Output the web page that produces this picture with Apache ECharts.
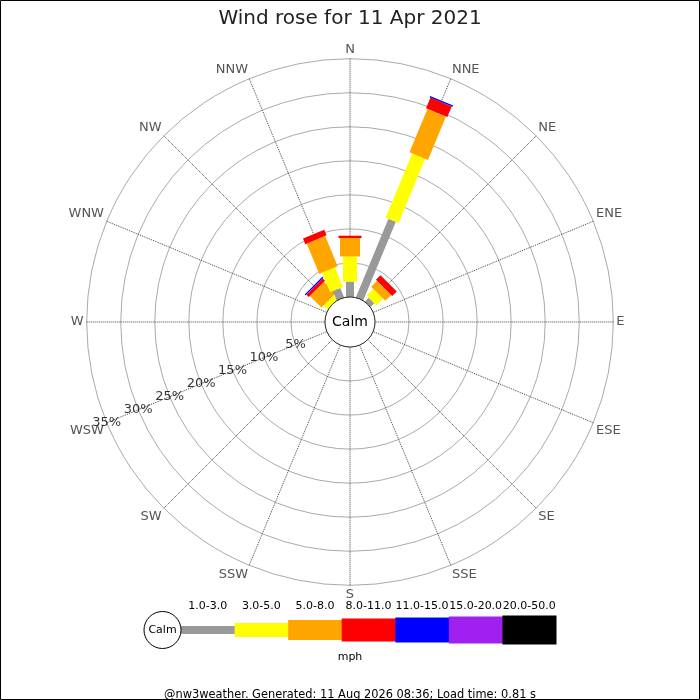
<!DOCTYPE html>
<html><head><meta charset="utf-8">
<script src="https://cdn.jsdelivr.net/npm/echarts@6/dist/echarts.min.js"></script>
<style>html,body{margin:0;padding:0;background:#fff}#c{width:700px;height:700px}</style>
</head><body><div id="c"></div>
<script>
// ---- data ----
const directions = ['N','NNE','NE','ENE','E','ESE','SE','SSE','S','SSW','SW','WSW','W','WNW','NW','NNW'];
const speedBins = ['1.0-3.0','3.0-5.0','5.0-8.0','8.0-11.0','11.0-15.0','15.0-20.0','20.0-50.0'];
// percentage of time per direction, one array per speed bin (mph)
const pct_1_3   = [2.25, 12.5, 0.8, 0, 0, 0, 0, 0, 0, 0, 0, 0, 0, 0, 0,   1.5];
const pct_3_5   = [3.7,  10.2, 1.4, 0, 0, 0, 0, 0, 0, 0, 0, 0, 0, 0, 0.8, 3.1];
const pct_5_8   = [2.7,  6.9,  1.2, 0, 0, 0, 0, 0, 0, 0, 0, 0, 0, 0, 2.4, 4.8];
const pct_8_11  = [0.35, 1.7,  0.95,0, 0, 0, 0, 0, 0, 0, 0, 0, 0, 0, 0.5, 0.9];
const pct_11_15 = [0,    0.2,  0,   0, 0, 0, 0, 0, 0, 0, 0, 0, 0, 0, 0.2, 0];
const pct_15_20 = [0,    0,    0,   0, 0, 0, 0, 0, 0, 0, 0, 0, 0, 0, 0,   0];
const pct_20_50 = [0,    0,    0,   0, 0, 0, 0, 0, 0, 0, 0, 0, 0, 0, 0,   0];
const radialTicks = [5, 10, 15, 20, 25, 30, 35];
const labelDirection = 'WSW';

// ---- styles ----
const FONT = 'DejaVu Sans';
const binColors = ['#999999', '#ffff00', '#ffa500', '#ff0000', '#0000ff', '#a020f0', '#000000'];
const barWidths = [8, 14, 20, 23, 25, 27, 29];
const STEP = 360 / directions.length;

const bins = [pct_1_3, pct_3_5, pct_5_8, pct_8_11, pct_11_15, pct_15_20, pct_20_50];
const roseData = [];
directions.forEach((d, di) => {
  let cum = 0;
  bins.forEach((arr, bi) => {
    const v = arr[di];
    if (v > 0) { roseData.push([cum, di * STEP, cum + v, bi]); cum += v; }
  });
});

function renderRose(params, api) {
  const cs = params.coordSys;
  const s = api.value(0), ang = api.value(1), e = api.value(2), bin = api.value(3);
  const p1 = api.coord([e, ang]);
  const p0 = s === 0 ? [cs.cx, cs.cy] : api.coord([s, ang]);
  const dx = p1[0] - p0[0], dy = p1[1] - p0[1];
  const len = Math.hypot(dx, dy) || 1;
  const hw = barWidths[bin] / 2;
  const nx = -dy / len * hw, ny = dx / len * hw;
  return {
    type: 'polygon',
    shape: { points: [[p0[0]+nx, p0[1]+ny], [p1[0]+nx, p1[1]+ny], [p1[0]-nx, p1[1]-ny], [p0[0]-nx, p0[1]-ny]] },
    style: { fill: binColors[bin] }
  };
}

function renderCalm(params, api) {
  const cs = params.coordSys;
  const p = api.coord([0, 0]);
  const r0 = Math.hypot(p[0] - cs.cx, p[1] - cs.cy);
  return {
    type: 'group',
    children: [
      { type: 'circle', shape: { cx: cs.cx, cy: cs.cy, r: r0 }, style: { fill: '#fff', stroke: '#000', lineWidth: 0.8 } },
      { type: 'text', style: { x: cs.cx, y: cs.cy, text: 'Calm', align: 'center', verticalAlign: 'middle', fontSize: 14, fill: '#000', fontFamily: FONT } }
    ]
  };
}

function renderLegend(params, api) {
  const i = api.value(0);
  const c = api.coord([i, 0]);
  const bw = api.size([1, 0])[0];
  const h = barWidths[i];
  const children = [{ type: 'rect', shape: { x: c[0] - bw/2, y: c[1] - h/2, width: bw + 0.5, height: h }, style: { fill: binColors[i] } }];
  if (i === 0) {
    const cr = 18.5;
    children.push({ type: 'circle', shape: { cx: c[0] - bw/2 - cr, cy: c[1], r: cr }, style: { fill: '#fff', stroke: '#000', lineWidth: 1 } });
    children.push({ type: 'text', style: { x: c[0] - bw/2 - cr, y: c[1], text: 'Calm', align: 'center', verticalAlign: 'middle', fontSize: 11, fill: '#000', fontFamily: FONT } });
  }
  return { type: 'group', children };
}

const chart = echarts.init(document.getElementById('c'), null, { renderer: 'canvas' });
chart.setOption({
  animation: false,
  backgroundColor: '#fff',
  textStyle: { fontFamily: FONT },
  title: [
    { text: 'Wind rose for 11 Apr 2021', left: 'center', top: 4, textStyle: { fontSize: 20, fontWeight: 'normal', color: '#222', fontFamily: FONT } },
    { text: 'mph', left: 'center', top: 647, textStyle: { fontSize: 11, fontWeight: 'normal', color: '#000', fontFamily: FONT } },
    { text: '@nw3weather. Generated: 11 Aug 2026 08:36; Load time: 0.81 s', left: 'center', top: 685, textStyle: { fontSize: 11.4, fontWeight: 'normal', color: '#000', fontFamily: FONT } }
  ],
  graphic: [{ type: 'rect', shape: { x: 0.5, y: 0.5, width: 699, height: 699 }, style: { fill: 'none', stroke: '#000', lineWidth: 1 }, z: 100 }],
  polar: { center: [350, 322], radius: [25, 263.3] },
  angleAxis: {
    type: 'value', min: 0, max: 360, interval: STEP, startAngle: 90, clockwise: true,
    axisLine: { show: false }, axisTick: { show: false },
    axisLabel: { show: true, color: '#555', fontSize: 13, margin: 3, fontFamily: FONT,
      formatter: v => { const i = Math.round(v / STEP); return i < directions.length ? directions[i] : ''; } },
    splitLine: { show: true, lineStyle: { color: '#444', width: 1, type: [1, 1] } }
  },
  radiusAxis: {
    type: 'value', min: 0, max: 35, interval: 5,
    axisLine: { show: false }, axisTick: { show: false }, axisLabel: { show: false },
    splitLine: { show: true, lineStyle: { color: '#aaa', width: 1 } }
  },
  grid: { left: 181, width: 375, top: 615, height: 30 },
  xAxis: {
    type: 'category', data: speedBins, position: 'top', gridIndex: 0,
    axisLine: { show: false }, axisTick: { show: false },
    axisLabel: { color: '#000', fontSize: 11, margin: 3, interval: 0, fontFamily: FONT }
  },
  yAxis: { type: 'value', min: -1, max: 1, show: false, gridIndex: 0 },
  series: [
    { type: 'custom', coordinateSystem: 'polar', polarIndex: 0, data: roseData, renderItem: renderRose, z: 3, silent: true },
    { type: 'custom', coordinateSystem: 'polar', polarIndex: 0, data: [[0, 0]], renderItem: renderCalm, z: 5, silent: true },
    { type: 'scatter', coordinateSystem: 'polar', polarIndex: 0, symbolSize: 0, z: 6, silent: true,
      data: radialTicks.map(t => [t, directions.indexOf(labelDirection) * STEP]),
      label: { show: true, position: 'inside', color: '#000', fontSize: 13, fontFamily: FONT, formatter: p => p.value[0] + '%' } },
    { type: 'custom', coordinateSystem: 'cartesian2d', xAxisIndex: 0, yAxisIndex: 0,
      data: speedBins.map((b, i) => [i, 0]), renderItem: renderLegend, silent: true }
  ]
});
</script></body></html>
